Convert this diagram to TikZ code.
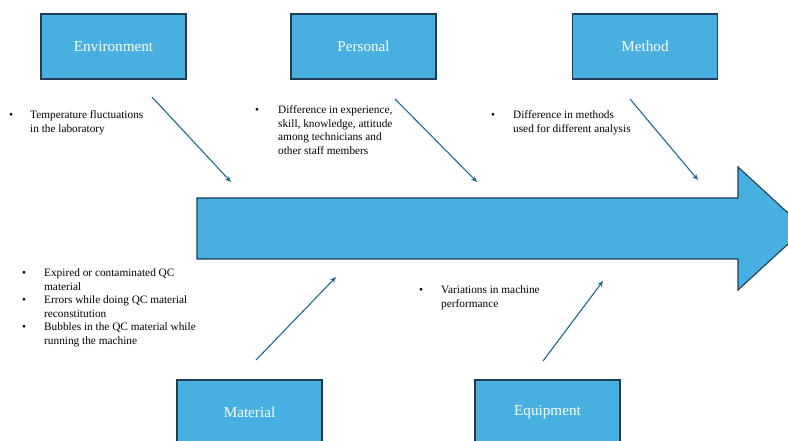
\documentclass[tikz,border=0pt]{standalone}
\usepackage{fontspec}
\setmainfont{Liberation Serif}
\usepackage{xcolor}
\usetikzlibrary{arrows.meta}

\definecolor{boxblue}{HTML}{47B0E1}
\definecolor{boxline}{HTML}{1F3D55}
\definecolor{arrowblue}{HTML}{1E6A8E}

\begin{document}
\begin{tikzpicture}[
    x=1pt, y=-1pt,
    cause/.style={draw=boxline, fill=boxblue, line width=1.1pt, minimum width=145pt,
                  minimum height=65pt, inner sep=0pt, text=white,
                  font=\fontsize{15.2}{18}\selectfont},
    note/.style={inner sep=0pt, anchor=base west, font=\fontsize{11.3}{13.5}\selectfont},
    spine/.style={draw=boxline, fill=boxblue, line width=1.1pt, line join=miter},
    effect/.style={-{Stealth[length=6pt, width=5pt]}, draw=arrowblue, line width=1.1pt}
]
\useasboundingbox (0,0) rectangle (788,441);
\clip (0,0) rectangle (788,441);

% --- Main spine arrow ---
\filldraw[spine] (197,198) -- (738,198) -- (738,167) -- (805,228.5)
    -- (738,290) -- (738,259) -- (197,259) -- cycle;

% --- Cause boxes (top) ---
\node[cause] (env)    at (113.5,46.5) {Environment};
\node[cause] (pers)   at (363.5,46.5) {Personal};
\node[cause] (meth)   at (645,46.5)   {Method};

% --- Cause boxes (bottom) ---
\node[cause] (mat)    at (249.5,412.5) {Material};
\node[cause] (equip)  at (547.5,412.5) {Equipment};

% --- Notes ---
\node[note] (envnote) at (9,119)
    {\begin{tabular}[t]{@{}p{21pt}@{}l@{}}\textbullet & Temperature fluctuations\\
     & in the laboratory\end{tabular}};
\node[note] (persnote) at (255,114)
    {\begin{tabular}[t]{@{}p{23pt}@{}l@{}}\textbullet & Difference in experience,\\
     & skill, knowledge, attitude\\ & among technicians and\\
     & other staff members\end{tabular}};
\node[note] (methnote) at (491,119)
    {\begin{tabular}[t]{@{}p{22pt}@{}l@{}}\textbullet & Difference in methods\\
     & used for different analysis\end{tabular}};
\node[note] (matnote) at (22,276.5)
    {\begin{tabular}[t]{@{}p{22pt}@{}l@{}}\textbullet & Expired or contaminated QC\\
     & material\\
     \textbullet & Errors while doing QC material\\
     & reconstitution\\
     \textbullet & Bubbles in the QC material while\\
     & running the machine\end{tabular}};
\node[note] (equipnote) at (419,294)
    {\begin{tabular}[t]{@{}p{22pt}@{}l@{}}\textbullet & Variations in machine\\
     & performance\end{tabular}};

% --- Arrow ends ---
\coordinate (envfrom)   at (152,97);  \coordinate (envto)   at (231,182);
\coordinate (persfrom)  at (395,99);  \coordinate (persto)  at (477,182);
\coordinate (methfrom)  at (630,99);  \coordinate (methto)  at (698,180);
\coordinate (matfrom)   at (256,360); \coordinate (matto)   at (336,277);
\coordinate (equipfrom) at (543,361); \coordinate (equipto) at (603,281);

% --- Arrows into the spine ---
\draw[effect] (envfrom)   -- (envto);
\draw[effect] (persfrom)  -- (persto);
\draw[effect] (methfrom)  -- (methto);
\draw[effect] (matfrom)   -- (matto);
\draw[effect] (equipfrom) -- (equipto);

\end{tikzpicture}
\end{document}
